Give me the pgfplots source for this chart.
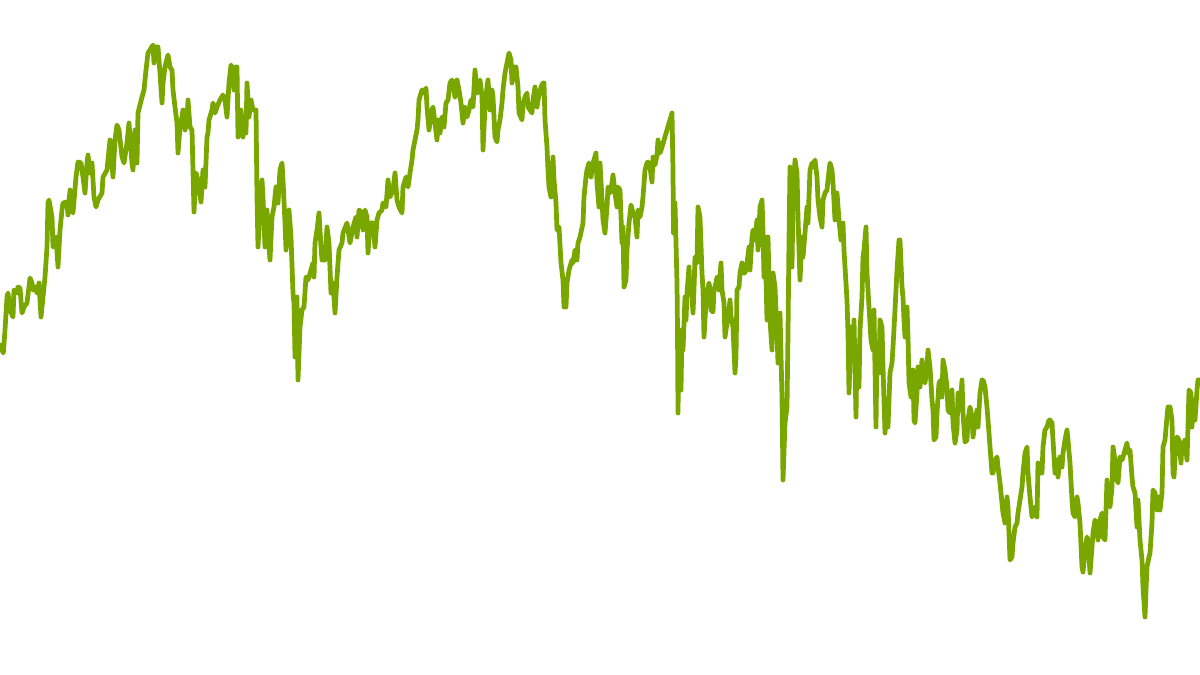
\documentclass[border=0pt]{standalone}
\usepackage{pgfplots}
\pgfplotsset{compat=1.18}
\definecolor{linegreen}{RGB}{122,166,0}
\begin{document}
\begin{tikzpicture}
\begin{axis}[
  width=12cm, height=6.75cm, scale only axis,
  xmin=0, xmax=1200, ymin=0, ymax=675, y dir=reverse,
  hide axis, clip=true,
]
\addplot[color=linegreen, line width=1.35pt, line join=round, line cap=round, mark=none] table {
x y
0 345
3.3 353
5 330
7 297
8 293
10 310
13 317
14 290
17 293
18 287
20 288
22 313
24 307
27 303
30 278
32 283
33 290
35 287
37 293
39 283
41 317
43 297
45 277
47 247
48 203
49 200
52 217
53 247
56 237
58 267
60 230
62 210
63 203
67 202
68 215
70 190
72 210
73 213
76 177
78 162
81 163
83 177
85 193
87 163
88 155
90 173
92 163
94 197
96 207
98 200
102 193
103 177
107 170
110 140
113 177
115 140
117 125
119 130
122 157
124 163
127 143
129 123
132 163
133 170
135 130
137 163
138 113
142 97
144 90
146 70
148 53
150 50
153 45
154 63
156 47
158 47
160 73
162 103
163 83
165 67
168 55
170 67
172 70
173 90
175 107
177 123
178 153
180 127
182 117
183 110
185 130
187 120
188 100
190 127
192 130
193 170
194 212
196 173
198 180
201 202
203 170
205 187
207 137
208 133
209 120
212 110
213 103
215 113
217 107
220 100
223 95
225 100
227 117
229 83
231 65
233 70
234 90
236 67
237 67
238 137
241 110
243 137
244 123
246 133
247 83
249 117
251 100
253 110
256 110
257 197
258 247
260 207
262 180
263 197
265 247
267 210
268 233
270 260
272 217
274 207
276 187
278 203
280 170
282 163
283 180
285 223
286 250
288 230
289 210
291 237
293 293
294 303
295 357
297 297
298 380
300 327
302 310
304 307
306 277
308 280
311 270
313 263
314 277
315 243
317 230
319 213
321 247
322 260
325 260
327 227
329 243
331 293
333 283
335 313
337 277
339 250
342 243
343 233
347 223
350 243
353 227
356 217
357 237
359 210
361 212
363 230
365 210
367 217
368 253
370 223
373 223
375 247
377 220
379 213
382 210
383 203
386 207
388 180
390 197
393 190
395 173
397 200
399 207
402 213
403 187
406 177
408 187
410 173
412 160
413 150
415 140
417 130
418 120
419 100
422 90
424 93
426 88
427 107
429 130
432 110
433 107
435 123
437 140
438 120
440 133
442 117
444 127
446 103
448 100
450 83
452 80
453 83
455 97
457 80
459 90
461 103
463 123
465 107
467 117
469 110
471 100
473 107
475 70
477 93
478 87
480 80
482 97
483 150
485 107
487 87
488 80
490 110
492 90
493 97
495 137
497 142
498 130
500 120
502 103
503 90
505 73
507 63
509 53
511 60
512 83
514 67
516 67
518 87
519 113
522 120
523 103
525 97
527 93
528 107
530 110
532 113
533 100
535 87
537 107
538 100
541 87
543 83
544 83
545 120
547 147
548 170
549 187
551 197
553 157
554 180
556 203
557 230
559 227
561 263
563 280
564 307
566 307
567 283
569 270
572 260
573 263
575 250
577 260
578 243
580 237
583 223
584 197
586 177
587 170
589 163
591 177
593 163
594 160
596 153
597 183
599 207
600 163
602 200
603 220
605 233
607 207
608 187
610 193
612 183
613 175
615 193
617 207
618 187
620 190
622 243
623 227
624 287
626 280
627 250
629 223
631 205
633 213
635 217
637 237
638 210
640 217
642 207
643 197
645 170
647 163
648 162
650 167
652 182
653 157
655 165
657 155
658 140
660 153
662 147
672 113
673 170
673.5 233
675 203
677 283
677.5 330
678 413
679 330
681 390
682 330
683 350
685 297
686 320
687 293
689 267
690 293
691 280
693 313
694 290
695 257
697 263
698 207
700 217
702 273
703 290
704 337
706 303
707 293
709 283
710 290
711 310
713 312
714 290
716 283
717 277
719 290
721 263
722 290
724 303
725 337
727 323
728 320
730 300
731 317
733 327
735 373
736 357
737 290
739 287
740 273
742 263
743 273
745 273
747 263
749 247
750 270
752 237
753 230
755 240
757 220
758 250
760 207
762 200
763 230
764 277
765 237
767 320
768 237
770 320
772 350
773 273
775 287
777 333
778 363
780 313
782 397
783 480
785 423
787 407
788 333
789 240
790 167
792 267
793 200
795 160
797 173
798 217
800 280
802 237
803 257
805 233
807 207
808 223
810 170
812 163
813 167
815 160
817 177
818 200
820 217
822 227
823 200
825 193
827 190
828 180
830 163
832 170
833 183
835 220
837 193
839 220
841 240
843 223
844 250
845 267
847 300
848 333
849 393
851 327
853 353
854 320
856 417
857 347
859 387
860 330
862 297
863 257
864 250
866 227
867 273
869 307
871 340
873 350
874 310
876 427
877 347
879 373
880 320
882 327
883 367
885 433
887 400
888 427
890 373
892 363
893 347
895 310
897 270
899 240
900 240
902 287
903 297
904 320
905 337
907 307
908 337
909 383
911 397
913 370
914 420
915 423
917 393
918 367
920 387
922 360
923 377
925 383
927 367
928 350
930 367
932 400
933 410
934 440
936 437
937 413
939 383
941 380
942 397
943 360
945 370
947 387
948 410
950 413
952 390
953 423
955 443
957 430
958 393
960 410
962 380
963 413
965 442
967 440
968 420
970 407
972 417
973 437
975 423
977 410
978 427
980 393
982 380
983 380
985 387
986 397
987 407
989 433
990 447
992 473
993 473
995 460
997 457
998 467
1000 483
1002 503
1003 513
1005 523
1007 497
1008 507
1010 560
1012 557
1013 543
1015 527
1017 523
1018 513
1020 500
1022 487
1023 473
1025 453
1027 447
1028 473
1030 497
1032 517
1033 513
1035 507
1037 517
1038 463
1040 473
1042 473
1043 447
1045 430
1047 427
1049 420
1050 420
1052 423
1053 440
1055 473
1057 460
1058 477
1060 457
1062 467
1063 453
1065 440
1067 430
1068 440
1070 463
1072 500
1073 513
1075 517
1077 497
1078 503
1080 523
1082 567
1083 572
1085 550
1087 537
1088 540
1090 573
1092 547
1093 533
1095 520
1097 527
1098 540
1100 520
1102 513
1103 537
1105 540
1107 480
1108 500
1110 507
1112 487
1113 447
1115 460
1117 480
1118 483
1120 457
1122 460
1123 457
1125 450
1127 443
1128 453
1130 450
1132 477
1133 487
1135 493
1137 527
1138 500
1140 540
1142 560
1143 587
1145 617
1146 590
1147 567
1149 557
1150 553
1152 523
1153 490
1155 493
1157 510
1158 497
1160 510
1162 493
1163 447
1165 440
1167 417
1168 407
1170 407
1172 420
1173 473
1174 477
1176 440
1177 437
1179 440
1181 463
1182 443
1183 450
1185 440
1187 460
1188 427
1189 390
1191 393
1192 427
1193 400
1195 420
1197 390
1198 380
1200 380
};
\end{axis}
\pgfresetboundingbox
\path[use as bounding box] (current axis.south west) rectangle (current axis.north east);
\end{tikzpicture}
\end{document}
